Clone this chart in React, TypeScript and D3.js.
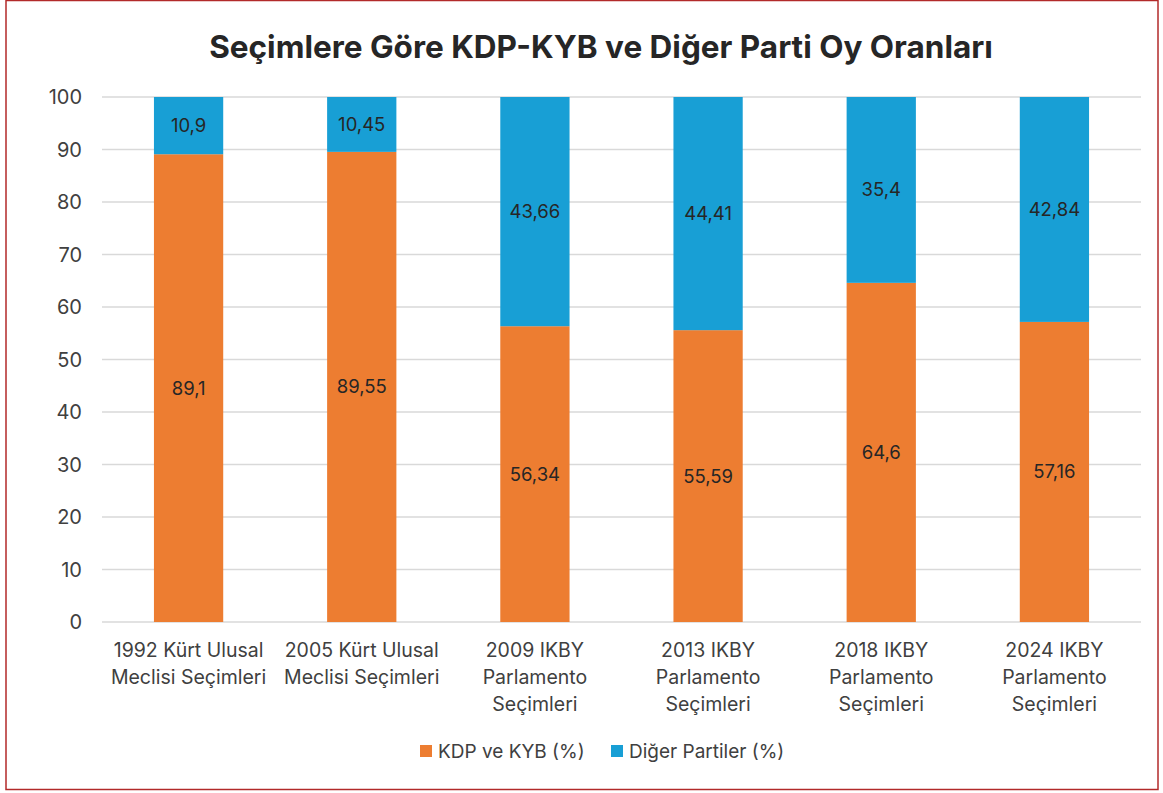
import React from 'react';
import * as d3 from 'd3';

const categories = [
  ['1992 Kürt Ulusal', 'Meclisi Seçimleri'],
  ['2005 Kürt Ulusal', 'Meclisi Seçimleri'],
  ['2009 IKBY', 'Parlamento', 'Seçimleri'],
  ['2013 IKBY', 'Parlamento', 'Seçimleri'],
  ['2018 IKBY', 'Parlamento', 'Seçimleri'],
  ['2024 IKBY', 'Parlamento', 'Seçimleri'],
];
const kdpKyb = [89.1, 89.55, 56.34, 55.59, 64.6, 57.16];
const diger = [10.9, 10.45, 43.66, 44.41, 35.4, 42.84];
const seriesNames = ['KDP ve KYB (%)', 'Diğer Partiler (%)'];
const colors = ['#ED7D31', '#189FD5'];
const yTicks = [0, 10, 20, 30, 40, 50, 60, 70, 80, 90, 100];

const width = 1163;
const height = 793;
const font = 'Inter, "Noto Sans", sans-serif';

const App = () => {
  const x = d3.scaleBand<number>()
    .domain(d3.range(categories.length))
    .range([102, 1141])
    .paddingInner(0.6)
    .paddingOuter(0.3);

  const y = d3.scaleLinear().domain([0, 100]).range([622, 97]);

  const fmt = (v: number) => String(v).replace('.', ',');

  const stacks = categories.map((_, i) => [
    { s: 0, y0: 0, y1: kdpKyb[i], v: kdpKyb[i] },
    { s: 1, y0: kdpKyb[i], y1: kdpKyb[i] + diger[i], v: diger[i] },
  ]);

  return (
    <div style={{ position: 'absolute', left: 0, top: 0 }}>
      <svg width={width} height={height} style={{ display: 'block', fontFamily: font }}>
        <rect x={0} y={0} width={width} height={height} fill="#fff" />
        <rect x={6} y={0.5} width={1152} height={789} fill="none" stroke="#B22A2A" strokeWidth={1.5} />

        <text x={601} y={58} textAnchor="middle" fontSize={31.5} fontWeight={700} fill="#262626">
          Seçimlere Göre KDP-KYB ve Diğer Parti Oy Oranları
        </text>

        {/* gridlines + y labels */}
        {yTicks.map(t => (
          <g key={t}>
            <line x1={102} x2={1141} y1={y(t)} y2={y(t)} stroke="#D9D9D9" strokeWidth={1.5} />
            <text x={82} y={y(t)} dy="0.35em" textAnchor="end" fontSize={20} fill="#404040">{t}</text>
          </g>
        ))}

        {/* bars */}
        {stacks.map((segs, i) => (
          <g key={i}>
            {segs.map(d => (
              <g key={d.s}>
                <rect
                  x={x(i)}
                  width={x.bandwidth()}
                  y={y(d.y1)}
                  height={y(d.y0) - y(d.y1)}
                  fill={colors[d.s]}
                />
                <text
                  x={(x(i) as number) + x.bandwidth() / 2}
                  y={(y(d.y0) + y(d.y1)) / 2}
                  dy="0.35em"
                  textAnchor="middle"
                  fontSize={18.5}
                  fill="#262626"
                >
                  {fmt(d.v)}
                </text>
              </g>
            ))}
          </g>
        ))}

        {/* x labels */}
        {categories.map((lines, i) => (
          <text
            key={i}
            x={(x(i) as number) + x.bandwidth() / 2}
            y={657}
            textAnchor="middle"
            fontSize={19.5}
            fill="#404040"
          >
            {lines.map((l, j) => (
              <tspan key={j} x={(x(i) as number) + x.bandwidth() / 2} dy={j === 0 ? 0 : 27}>{l}</tspan>
            ))}
          </text>
        ))}

        {/* legend */}
        <rect x={420} y={745} width={12} height={12} fill={colors[0]} />
        <text x={438} y={751} dy="0.35em" fontSize={19} fill="#404040">{seriesNames[0]}</text>
        <rect x={611} y={745} width={12} height={12} fill={colors[1]} />
        <text x={629} y={751} dy="0.35em" fontSize={19} fill="#404040">{seriesNames[1]}</text>
      </svg>
    </div>
  );
};

export default App;
